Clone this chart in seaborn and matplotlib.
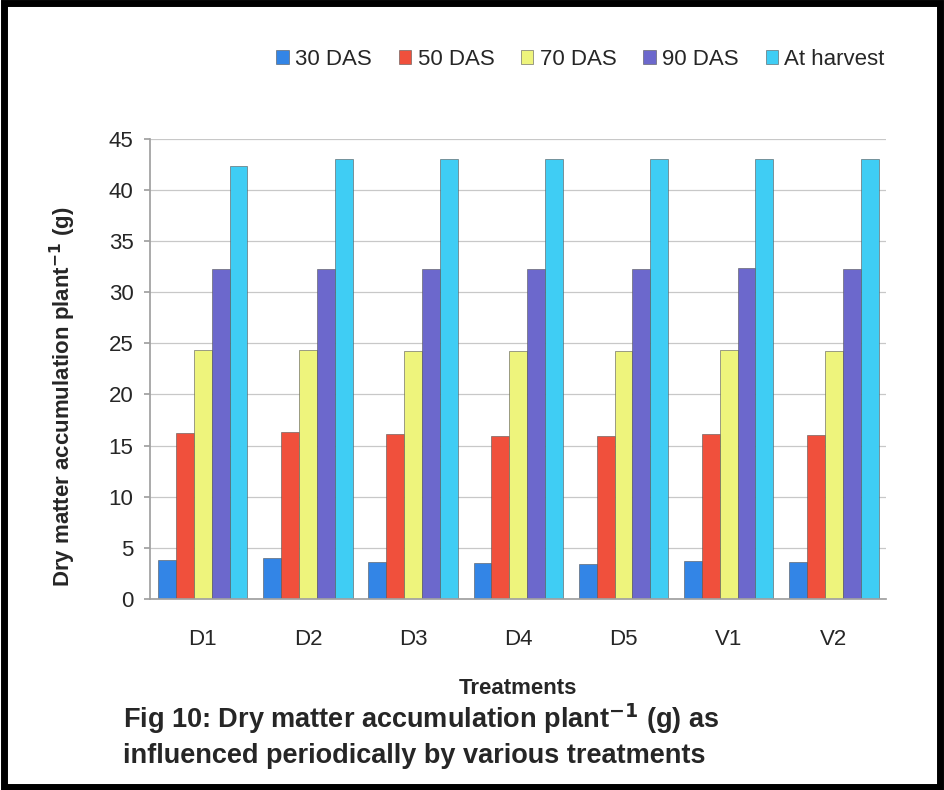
import matplotlib
matplotlib.use("Agg")
import matplotlib.pyplot as plt
import seaborn as sns
import pandas as pd
from matplotlib.patches import Rectangle

treatments = ["D1", "D2", "D3", "D4", "D5", "V1", "V2"]
stages = ["30 DAS", "50 DAS", "70 DAS", "90 DAS", "At harvest"]
das30 = [3.8, 4.0, 3.6, 3.5, 3.4, 3.7, 3.6]
das50 = [16.2, 16.3, 16.1, 15.9, 15.9, 16.1, 16.0]
das70 = [24.4, 24.4, 24.3, 24.3, 24.3, 24.4, 24.3]
das90 = [32.3, 32.3, 32.3, 32.3, 32.3, 32.4, 32.3]
harvest = [42.4, 43.0, 43.0, 43.0, 43.0, 43.0, 43.0]
colors = ["#3385E6", "#F0503C", "#EEF47C", "#6C68CC", "#3FCDF4"]

series = [das30, das50, das70, das90, harvest]
rows = []
for s, vals in zip(stages, series):
    for t, v in zip(treatments, vals):
        rows.append({"Treatment": t, "Stage": s, "Value": v})
df = pd.DataFrame(rows)

sns.set_theme(style="white")
plt.rcParams["font.family"] = ["Liberation Sans", "DejaVu Sans"]

fig = plt.figure(figsize=(9.44, 7.90), dpi=100)
ax = fig.add_axes([0.159, 0.242, 0.78, 0.582])

sns.barplot(data=df, x="Treatment", y="Value", hue="Stage", hue_order=stages,
            palette=colors, width=0.85, saturation=1, ax=ax, errorbar=None,
            edgecolor="#555555", linewidth=0.4)

ax.set_ylim(0, 45)
ax.set_yticks(range(0, 46, 5))
ax.yaxis.grid(True, color="#C8C8C8", linewidth=0.9)
ax.set_axisbelow(True)
for side in ["top", "right"]:
    ax.spines[side].set_visible(False)
ax.spines["left"].set_color("#A0A0A0")
ax.spines["bottom"].set_color("#A0A0A0")
ax.tick_params(axis="y", labelsize=16, length=4, color="#A0A0A0", left=True, pad=8)
ax.tick_params(axis="x", labelsize=16, length=0, pad=22)
ax.set_xlabel("Treatments", fontsize=16, fontweight="bold", labelpad=20)
ax.set_ylabel("Dry matter accumulation plant$^{\\mathbf{-1}}$ (g)", fontsize=16,
              fontweight="bold")
ax.yaxis.set_label_coords(-0.098, 0.44)

leg = ax.legend(loc="upper right", bbox_to_anchor=(1.025, 1.24), ncol=5, frameon=False,
                fontsize=16, handlelength=0.55, handleheight=0.55, handletextpad=0.3,
                columnspacing=1.2)

fig.text(0.13, 0.069, "Fig 10: Dry matter accumulation plant$^{\\mathbf{-1}}$ (g) as\ninfluenced periodically by various treatments",
         ha="left", va="center", fontsize=19.5, fontweight="bold", linespacing=1.35)

fig.add_artist(Rectangle((0.004, 0.004), 0.992, 0.992, transform=fig.transFigure,
                         fill=False, edgecolor="black", linewidth=5))

fig.savefig("out.png", dpi=100)
